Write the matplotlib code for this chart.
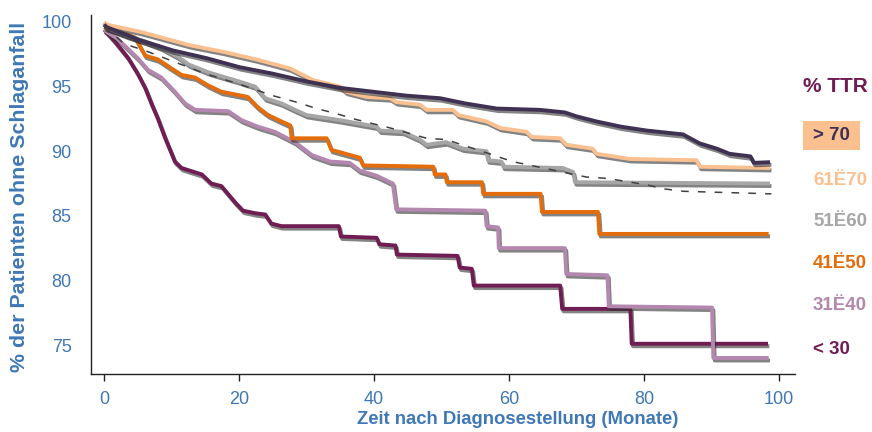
import matplotlib
matplotlib.use("Agg")
import matplotlib.pyplot as plt
import matplotlib.patheffects as pe

plt.rcParams['font.family'] = ['Liberation Sans', 'DejaVu Sans']

# ---- data (months, % without stroke) ----
gt70_x = [0, 0.4, 5.3, 10.2, 15.2, 20.1, 25, 30, 35, 39.9, 44.8, 49.8, 53.5, 58.2, 64.6, 68.3, 70, 73, 76.6, 80.4, 85.8, 88.3, 90.8, 92.7, 95.8, 96.3, 98.7]
gt70_y = [99.8, 99.6, 98.6, 97.8, 97.2, 96.5, 96.0, 95.4, 94.9, 94.6, 94.3, 94.1, 93.7, 93.3, 93.2, 93.0, 92.7, 92.3, 91.9, 91.6, 91.3, 90.6, 90.2, 89.8, 89.6, 89.1, 89.15]

r61_x = [0, 0.4, 5.3, 7.8, 12.7, 17.6, 22.6, 27.6, 31, 35, 35.9, 38.9, 42.4, 43.3, 46.8, 47.8, 51.7, 52.5, 56.7, 58.7, 62.6, 63.4, 67.6, 68.5, 72.4, 73, 77.9, 87.8, 88.3, 98.7]
r61_y = [100.0, 99.8, 99.25, 98.9, 98.2, 97.7, 97.1, 96.4, 95.5, 95.0, 94.6, 94.2, 94.1, 93.8, 93.6, 93.2, 93.2, 92.8, 92.3, 91.8, 91.5, 91.1, 91.0, 90.5, 90.2, 89.8, 89.4, 89.3, 88.8, 88.7]

r51_x = [0, 0.6, 3.6, 6.1, 8.5, 11, 12.6, 15.5, 20, 22.4, 23.9, 26.3, 28.3, 30, 35, 40.4, 40.9, 44.3, 46.8, 47.8, 50.7, 53.2, 56.7, 56.9, 58.9, 59.2, 68, 69.5, 69.8, 98.7]
r51_y = [99.9, 99.5, 98.9, 98.5, 98.0, 97.3, 96.7, 96.1, 95.4, 95.0, 94.1, 93.7, 93.2, 92.8, 92.4, 91.9, 91.6, 91.5, 90.9, 90.5, 90.7, 90.2, 90.0, 89.3, 89.2, 88.8, 88.7, 88.4, 87.6, 87.5]

r41_x = [0, 0.5, 3.6, 4.6, 6.1, 8.0, 10, 11.5, 13.5, 15.4, 17.4, 19.4, 21.3, 22.8, 24.3, 26.3, 27.6, 27.8, 33.0, 33.7, 37.9, 38.4, 48.8, 49.0, 50.6, 50.8, 56.0, 56.2, 64.7, 64.9, 73.2, 73.4, 98.5]
r41_y = [99.6, 99.5, 99.0, 98.8, 97.4, 97.1, 96.4, 95.9, 95.7, 95.1, 94.6, 94.4, 94.2, 93.4, 92.8, 92.3, 92.0, 91.0, 91.0, 90.1, 89.5, 88.9, 88.8, 88.2, 88.2, 87.6, 87.6, 86.7, 86.7, 85.3, 85.3, 83.6, 83.6]

r31_x = [0, 0.5, 2, 5, 6.5, 8.5, 10.5, 12, 13.5, 18.4, 20.4, 22.8, 25.3, 28.3, 30.8, 33.5, 36.4, 37.9, 40.4, 42.8, 43.3, 56.5, 56.7, 58.4, 58.5, 68.3, 68.5, 74.6, 74.8, 90.1, 90.3, 98.5]
r31_y = [99.4, 99.2, 98.7, 97.2, 96.3, 95.7, 94.6, 93.7, 93.2, 93.1, 92.4, 91.9, 91.5, 90.7, 89.7, 89.2, 89.1, 88.5, 88.1, 87.5, 85.5, 85.4, 84.2, 84.1, 82.5, 82.5, 80.5, 80.4, 78.0, 77.9, 74.0, 74.0]

lt30_x = [0, 0.4, 1.6, 3.6, 5, 6.1, 7.1, 8.0, 9.0, 10.5, 11.5, 14.5, 15.9, 17.4, 19.5, 20.6, 22.4, 23.9, 24.8, 26.3, 34.8, 35.1, 40.4, 40.8, 43.2, 43.4, 52.4, 52.7, 54.5, 54.8, 67.6, 67.9, 78.0, 78.2, 98.4]
lt30_y = [99.4, 99.2, 98.5, 97.2, 96.0, 94.9, 93.6, 92.5, 91.1, 89.2, 88.7, 88.2, 87.5, 87.3, 86.0, 85.4, 85.2, 85.1, 84.4, 84.2, 84.2, 83.4, 83.3, 82.8, 82.7, 82.0, 81.9, 81.0, 80.9, 79.6, 79.6, 77.8, 77.8, 75.1, 75.1]

dash_x = [0, 3, 6, 10, 15, 20, 25, 28.5, 31.5, 34.5, 37, 42.4, 47.8, 50.7, 57.7, 60.5, 71.5, 74.5, 80.4, 82.8, 85.8, 98.9]
dash_y = [99.7, 98.3, 97.8, 97.0, 96.0, 95.2, 94.3, 93.8, 93.3, 92.9, 92.5, 91.8, 91.0, 90.9, 89.7, 89.2, 88.0, 87.9, 87.4, 87.1, 86.9, 86.7]

x_ticks = [0, 20, 40, 60, 80, 100]
y_ticks = [75, 80, 85, 90, 95, 100]

legend_title = "% TTR"
legend_labels = ["> 70", "61Ë70", "51Ë60", "41Ë50", "31Ë40", "< 30"]

c_gt70 = '#3f3151'
c_61 = '#fac090'
c_51 = '#a6a6a6'
c_41 = '#e46c0a'
c_31 = '#b387ae'
c_lt30 = '#6f1d52'
blue = '#3f78b5'

W, H = 872, 432
fig = plt.figure(figsize=(W / 100, H / 100), dpi=100)
ax = fig.add_axes([91 / W, 1 - 374 / H, (795 - 91) / W, (374 - 15) / H])

shadow = [pe.SimpleLineShadow(offset=(1.0, -1.8), shadow_color='#303030', alpha=0.6), pe.Normal()]

series = [
    (lt30_x, lt30_y, c_lt30),
    (r31_x, r31_y, c_31),
    (r41_x, r41_y, c_41),
    (r51_x, r51_y, c_51),
    (r61_x, r61_y, c_61),
    (gt70_x, gt70_y, c_gt70),
]
for xs, ys, col in series:
    ax.plot(xs, ys, color=col, lw=2.8, solid_joinstyle='round', solid_capstyle='butt', path_effects=shadow, zorder=3)

ax.plot(dash_x, dash_y, color='#404040', lw=1.1, dashes=(5, 6), zorder=4)

ax.set_xlim(-1.93, 102.4)
ax.set_ylim(72.76, 100.54)
ax.set_xticks(x_ticks)
ax.set_yticks(y_ticks)
ax.tick_params(axis='x', direction='out', length=5, width=1, colors='#222222', labelcolor=blue, labelsize=13, pad=7)
ax.tick_params(axis='y', length=0, labelcolor=blue, labelsize=13, pad=14)
for s in ['top', 'right']:
    ax.spines[s].set_visible(False)
for s in ['left', 'bottom']:
    ax.spines[s].set_color('#222222')
    ax.spines[s].set_linewidth(1.0)

fig.text(518 / W, 1 - 420 / H, "Zeit nach Diagnosestellung (Monate)", color=blue, fontsize=13.3,
         fontweight='bold', ha='center', va='center')
fig.text(20 / W, 1 - 197 / H, "% der Patienten ohne Schlaganfall", color=blue, fontsize=15.4,
         fontweight='bold', ha='center', va='center', rotation=90)

# legend-like text block
def ftxt(px, py, s, color, size=13.5, **kw):
    fig.text(px / W, 1 - py / H, s, color=color, fontsize=size, fontweight='bold', va='center', ha='left', **kw)

ftxt(803, 87, legend_title, c_lt30, size=15)
fig.patches.append(plt.Rectangle((803 / W, 1 - 150 / H), 57 / W, 29 / H, transform=fig.transFigure, facecolor=c_61, edgecolor='none', zorder=1))
label_colors = [c_gt70, c_61, c_51, c_41, c_31, c_lt30]
label_y = [135, 180, 221, 264, 306, 349]
for lab, col, yy in zip(legend_labels, label_colors, label_y):
    ftxt(813, yy, lab, col, zorder=3)

fig.savefig("out.png", dpi=100)
